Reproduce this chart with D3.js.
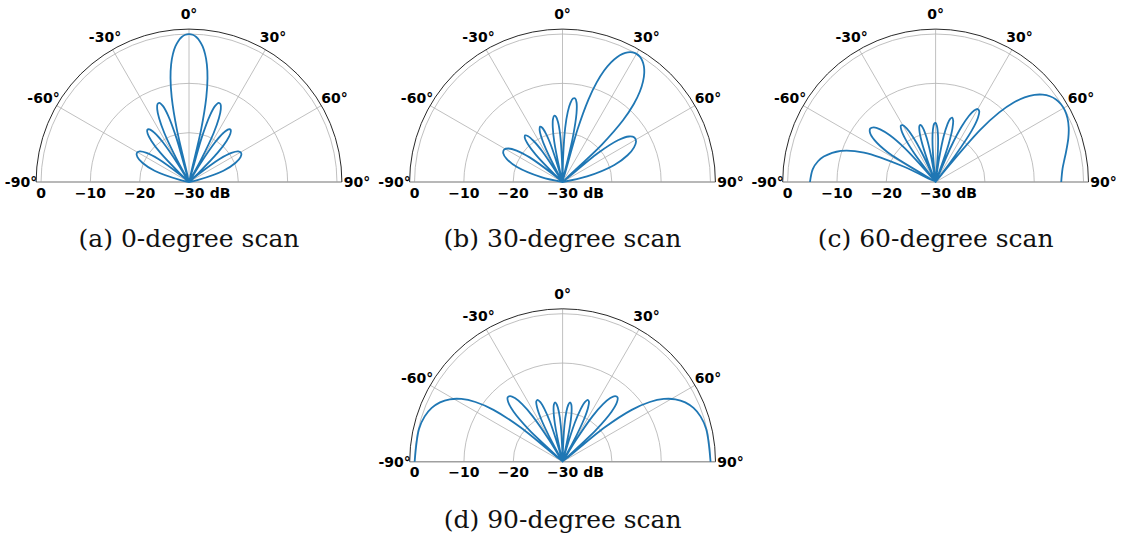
<!DOCTYPE html>
<html>
<head>
<meta charset="utf-8">
<script src="https://cdn.jsdelivr.net/npm/d3@7"></script>
<style>
  html, body { margin: 0; padding: 0; background: #ffffff; }
  svg { display: block; }
</style>
</head>
<body>
<svg id="chart" width="1121" height="539"></svg>
<script>
// Beam patterns of an 8-element, half-wavelength-spaced linear array (dB, floor -30 dB)

// Observation angles in degrees, shared by the 0°, 30° and 90° scans
const angles = [
  -90, -77.16, -71.81, -67.67, -64.16, -61.04, -58.21, -55.59, -53.13, -50.80,
  -48.59, -46.47, -44.43, -42.45, -40.54, -38.68, -36.87, -35.10, -33.37, -31.67,
  -30, -28.36, -26.74, -25.15, -23.58, -22.02, -20.49, -18.97, -17.46, -15.96,
  -14.48, -13.00, -11.54, -10.08, -8.63, -7.18, -5.74, -4.30, -2.87, -1.43,
  0,
  1.43, 2.87, 4.30, 5.74, 7.18, 8.63, 10.08, 11.54, 13.00, 14.48,
  15.96, 17.46, 18.97, 20.49, 22.02, 23.58, 25.15, 26.74, 28.36, 30,
  31.67, 33.37, 35.10, 36.87, 38.68, 40.54, 42.45, 44.43, 46.47, 48.59,
  50.80, 53.13, 55.59, 58.21, 61.04, 64.16, 67.67, 71.81, 77.16, 90
];

// Gain (dB) at each angle above, one array per steering angle
const scan0 = [
  -30, -28.26, -22.65, -19.84, -18.39, -17.89, -18.25, -19.57, -22.24, -27.71,
  -30, -27.43, -21.68, -18.72, -17.11, -16.46, -16.66, -17.80, -20.30, -25.58,
  -30, -24.90, -18.93, -15.74, -13.88, -12.96, -12.86, -13.68, -15.82, -20.70,
  -30, -19.05, -12.48, -8.58, -5.86, -3.87, -2.38, -1.31, -0.57, -0.14,
  0,
  -0.14, -0.57, -1.31, -2.38, -3.87, -5.86, -8.58, -12.48, -19.05, -30,
  -20.70, -15.82, -13.68, -12.86, -12.96, -13.88, -15.74, -18.93, -24.90, -30,
  -25.58, -20.30, -17.80, -16.66, -16.46, -17.11, -18.72, -21.68, -27.43, -30,
  -27.71, -22.24, -19.57, -18.25, -17.89, -18.39, -19.84, -22.65, -28.26, -30
];

const scan30 = [
  -30, -25.58, -20.30, -17.80, -16.66, -16.46, -17.11, -18.72, -21.68, -27.43,
  -30, -27.71, -22.24, -19.57, -18.25, -17.89, -18.39, -19.84, -22.65, -28.26,
  -30, -28.26, -22.65, -19.84, -18.39, -17.89, -18.25, -19.57, -22.24, -27.71,
  -30, -27.43, -21.68, -18.72, -17.11, -16.46, -16.66, -17.80, -20.30, -25.58,
  -30,
  -24.90, -18.93, -15.74, -13.88, -12.96, -12.86, -13.68, -15.82, -20.70, -30,
  -19.05, -12.48, -8.58, -5.86, -3.87, -2.38, -1.31, -0.57, -0.14, 0,
  -0.14, -0.57, -1.31, -2.38, -3.87, -5.86, -8.58, -12.48, -19.05, -30,
  -20.70, -15.82, -13.68, -12.86, -12.96, -13.88, -15.74, -18.93, -24.90, -30
];

const scan90 = [
  0, -0.14, -0.57, -1.31, -2.38, -3.87, -5.86, -8.58, -12.48, -19.05,
  -30, -20.70, -15.82, -13.68, -12.86, -12.96, -13.88, -15.74, -18.93, -24.90,
  -30, -25.58, -20.30, -17.80, -16.66, -16.46, -17.11, -18.72, -21.68, -27.43,
  -30, -27.71, -22.24, -19.57, -18.25, -17.89, -18.39, -19.84, -22.65, -28.26,
  -30,
  -28.26, -22.65, -19.84, -18.39, -17.89, -18.25, -19.57, -22.24, -27.71, -30,
  -27.43, -21.68, -18.72, -17.11, -16.46, -16.66, -17.80, -20.30, -25.58, -30,
  -24.90, -18.93, -15.74, -13.88, -12.96, -12.86, -13.68, -15.82, -20.70, -30,
  -19.05, -12.48, -8.58, -5.86, -3.87, -2.38, -1.31, -0.57, -0.14, 0
];

// The 60° scan adds samples near the end-fire edges and at the null left of its main beam
const angles60 = [
  -90, -84, -80, -77.16, -71.81, -67.67, -64.16, -61.04, -58.21, -55.59, -53.13, -50.80,
  -48.59, -46.47, -44.43, -42.45, -40.54, -38.68, -36.87, -35.10, -33.37, -31.67,
  -30, -28.36, -26.74, -25.15, -23.58, -22.02, -20.49, -18.97, -17.46, -15.96,
  -14.48, -13.00, -11.54, -10.08, -8.63, -7.18, -5.74, -4.30, -2.87, -1.43,
  0,
  1.43, 2.87, 4.30, 5.74, 7.18, 8.63, 10.08, 11.54, 13.00, 14.48,
  15.96, 17.46, 18.97, 20.49, 22.02, 23.58, 25.15, 26.74, 28.36, 30,
  31.67, 33.37, 35.10, 36.87, 38.03, 38.68, 40.54, 42.45, 44.43, 46.47, 48.59,
  50.80, 53.13, 55.59, 58.21, 61.04, 64.16, 67.67, 71.81, 77.16, 80, 84, 90
];

const scan60 = [
  -4.53, -4.96, -5.79, -6.74, -9.78, -14.31, -22.91, -29.60, -18.62, -14.99, -13.38, -12.89,
  -13.28, -14.50, -16.75, -20.64, -28.76, -30, -23.30, -19.32, -17.37, -16.58,
  -16.69, -17.66, -19.67, -23.33, -30, -30, -25.33, -21.19, -19.07, -18.12,
  -18.07, -18.88, -20.75, -24.28, -30, -30, -25.81, -21.54, -19.29, -18.21,
  -18.02,
  -18.70, -20.44, -23.84, -30, -30, -24.90, -20.49, -18.11, -16.87, -16.53,
  -17.05, -18.62, -21.85, -29.44, -30, -22.26, -17.64, -15.02, -13.54, -12.92,
  -13.15, -14.39, -17.27, -24.56, -30, -27.95, -16.09, -10.87, -7.50, -5.09, -3.30,
  -1.98, -1.03, -0.41, -0.09, -0.05, -0.29, -0.83, -1.68, -2.89, -3.47, -4.12, -4.53
];

const captions = [
  "(a) 0-degree scan",
  "(b) 30-degree scan",
  "(c) 60-degree scan",
  "(d) 90-degree scan"
];

const radialTicks = [-30, -20, -10, 0];
const radialTickLabels = ["\u221230", "\u221220", "\u221210", "0"];
const radialUnit = "dB";
const angleTicks = [-90, -60, -30, 0, 30, 60, 90];
const angleTickLabels = ["-90°", "-60°", "-30°", "0°", "30°", "60°", "90°"];

// ---- layout ----
const panels = [
  { cx: 189,   cy: 182,   capY: 247, a: angles,   v: scan0,  caption: captions[0] },
  { cx: 562.5, cy: 182,   capY: 247, a: angles,   v: scan30, caption: captions[1] },
  { cx: 935.6, cy: 182,   capY: 247, a: angles60, v: scan60, caption: captions[2] },
  { cx: 562.6, cy: 461.7, capY: 528, a: angles,   v: scan90, caption: captions[3] }
];

const R_MAX_DB = 1;             // radial axis runs from -30 dB (centre) to +1 dB
const rScale = d3.scaleLinear().domain([-30, R_MAX_DB]).range([0, 152.9]);
const aScale = d3.scaleLinear().domain([-90, 90]).range([-Math.PI / 2, Math.PI / 2]);
const LABEL_R = 168;

const tickFont = "'DejaVu Sans', sans-serif";
const capFont = "'DejaVu Serif', serif";

const svg = d3.select("#chart");
svg.append("rect").attr("width", 1121).attr("height", 539).attr("fill", "#ffffff");

const pattern = d3.lineRadial()
  .angle(d => aScale(d[0]))
  .radius(d => rScale(Math.max(-30, d[1])))
  .curve(d3.curveCatmullRom.alpha(0.5));

function halfCircle(r) {
  const p = d3.path();
  p.arc(0, 0, r, -Math.PI, 0);
  return p.toString();
}

panels.forEach(pn => {
  const g = svg.append("g").attr("transform", `translate(${pn.cx},${pn.cy})`);
  const rOuter = rScale(R_MAX_DB);

  // concentric dB gridlines
  g.selectAll("path.ring")
    .data(radialTicks.filter(t => rScale(t) > 0))
    .join("path")
    .attr("class", "ring")
    .attr("d", t => halfCircle(rScale(t)))
    .attr("fill", "none")
    .attr("stroke", "#b0b0b0")
    .attr("stroke-width", 0.8);

  // angular spokes
  g.selectAll("line.spoke")
    .data(angleTicks.filter(t => Math.abs(t) < 90))
    .join("line")
    .attr("class", "spoke")
    .attr("x1", 0).attr("y1", 0)
    .attr("x2", t => rOuter * Math.sin(aScale(t)))
    .attr("y2", t => -rOuter * Math.cos(aScale(t)))
    .attr("stroke", "#b0b0b0")
    .attr("stroke-width", 0.8);

  // ±90° base line
  g.append("line")
    .attr("x1", -rOuter).attr("y1", 0)
    .attr("x2", rOuter).attr("y2", 0)
    .attr("stroke", "#a0a0a0")
    .attr("stroke-width", 1.6);

  // beam pattern
  const pts = pn.a.map((ang, i) => [ang, pn.v[i]]);
  g.append("path")
    .attr("d", pattern(pts))
    .attr("fill", "none")
    .attr("stroke", "#1f77b4")
    .attr("stroke-width", 1.8)
    .attr("stroke-linejoin", "round");

  // outer frame
  g.append("path")
    .attr("d", halfCircle(rOuter))
    .attr("fill", "none")
    .attr("stroke", "#111111")
    .attr("stroke-width", 0.9);

  // angle tick labels
  g.selectAll("text.atick")
    .data(angleTicks)
    .join("text")
    .attr("class", "atick")
    .attr("x", t => LABEL_R * Math.sin(aScale(t)))
    .attr("y", t => -LABEL_R * Math.cos(aScale(t)) + 5)
    .attr("text-anchor", "middle")
    .attr("font-family", tickFont)
    .attr("font-weight", "bold")
    .attr("font-size", 14)
    .attr("fill", "#000")
    .text((t, i) => angleTickLabels[i]);

  // radial tick labels along the left half of the base line
  g.selectAll("text.rtick")
    .data(radialTicks)
    .join("text")
    .attr("class", "rtick")
    .attr("x", t => -rScale(t))
    .attr("y", 15.5)
    .attr("text-anchor", "middle")
    .attr("font-family", tickFont)
    .attr("font-weight", "bold")
    .attr("font-size", 14)
    .attr("fill", "#000")
    .text((t, i) => radialTickLabels[i])
    .each(function (t) {
      if (t === radialTicks[0]) {
        const bb = this.getBBox();
        g.append("text")
          .attr("x", bb.x + bb.width + 4.9)
          .attr("y", 15.5)
          .attr("font-family", tickFont)
          .attr("font-weight", "bold")
          .attr("font-size", 14)
          .attr("fill", "#000")
          .text(radialUnit);
      }
    });

  // sub-figure caption
  svg.append("text")
    .attr("x", pn.cx)
    .attr("y", pn.capY)
    .attr("text-anchor", "middle")
    .attr("font-family", capFont)
    .attr("font-size", 25)
    .attr("fill", "#111")
    .text(pn.caption);
});
</script>
</body>
</html>
